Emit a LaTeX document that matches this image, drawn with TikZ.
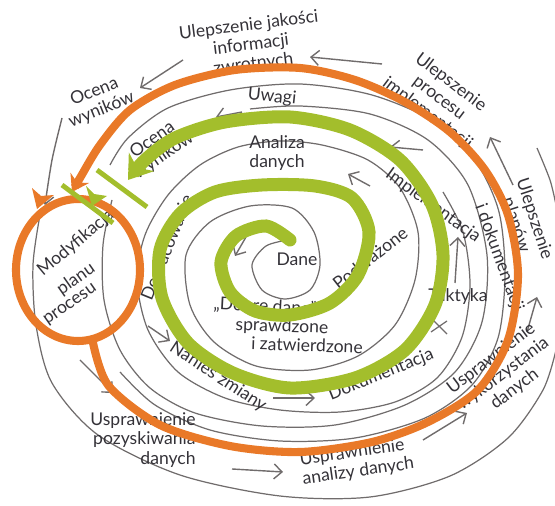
\documentclass[tikz,border=0pt]{standalone}
\usepackage{fontspec}
\setmainfont{Lato}
\usetikzlibrary{arrows.meta}
\definecolor{pomarancz}{RGB}{233,121,40}
\definecolor{zielen}{RGB}{163,190,44}
\definecolor{szary}{RGB}{112,108,108}
\definecolor{napis}{RGB}{52,50,56}

\begin{document}
\begin{tikzpicture}[x=0.02cm,y=-0.02cm,
            every node/.style={text=napis,font=\fontsize{10}{11}\selectfont,inner sep=0pt,align=center},
            linia/.style={szary,line width=0.7pt},
            grot/.style={szary,line width=0.8pt,-{Straight Barb[length=1.6mm,width=3mm]}},
            spirala/.style={zielen,line width=7.4pt,line cap=round},
            petla/.style={pomarancz,line width=4.6pt}]
                \useasboundingbox (0,0) rectangle (555,506);

                % szare linie spirali
                \draw[linia] plot[smooth] coordinates {(288,240) (266,246) (252,265) (262,290) (285,299) (310,290) (320,265) (314,232)
                    (292,208) (250,206) (210,222) (186,255) (190,305) (214,342) (256,366) (310,370) (358,356) (395,325) (415,280)
                    (418,232) (400,188) (368,160) (322,145) (280,141) (238,147) (200,165) (168,195) (145,235) (137,280) (148,330)
                    (178,372) (225,398) (280,410) (340,412) (395,402) (437,378) (462,337) (470,285) (463,232) (443,192)};
                \draw[linia] plot[smooth] coordinates {(250,109) (300,106) (370,114) (428,140) (468,185) (487,255) (482,322)
                    (455,372) (405,405) (335,425) (262,426) (195,413) (150,388) (120,350) (104,300) (103,245) (112,200)};
                \draw[linia] plot[smooth] coordinates {(120,372) (155,405) (210,430) (280,441) (355,438) (425,418) (472,385)
                    (498,338) (505,275) (499,212) (476,162) (435,122) (372,95) (300,84) (230,90) (168,108) (128,138) (110,165)};
                \draw[linia] plot[smooth] coordinates {(40,215) (33,265) (36,325) (52,383) (98,435) (180,475) (280,496)
                    (370,497) (450,476) (508,438) (543,390) (556,350)};
                \draw[linia] plot[smooth] coordinates {(537,148) (550,180) (556,205)};

                \begin{scope}
                    \draw[grot] plot[smooth] coordinates {(62,118) (52,160) (45,205)};
                    \draw[grot] (183,60) -- (140,88);
                    \draw[grot] (382,64) -- (310,57);
                    \draw[grot] (513,185) -- (490,137);
                    \draw[grot] (527,332) -- (537,297);
                    \draw[grot] (423,440) -- (467,413);
                    \draw[grot] (232,469) -- (283,472);
                    \draw[grot] (80,360) -- (113,393);
                    \draw[grot] (242,112) -- (216,117);
                    \draw[grot] (423,150) -- (390,147);
                    \draw[grot] (370,186) -- (348,174);
                    \draw[grot] (246,237) -- (235,256);
                    \draw[grot] (455,283) -- (458,237);
                    \draw[grot] (273,398) -- (315,398);
                    \draw[grot] (148,326) -- (170,341);
                    \draw[linia] (433,320) -- (447,334) (447,321) -- (431,332);
                \end{scope}

                % napisy
                \node[rotate=7] (jakosc) at (251,45) {Ulepszenie jakości\\informacji\\zwrotnych};
                \node[rotate=22] (ocenaZ) at (98,101) {Ocena\\wyników};
                \node[rotate=-37] (procesu) at (439,98) {Ulepszenie\\procesu\\implementacji};
                \node[rotate=-72] (plany) at (525,222) {Ulepszenie\\planów};
                \node[rotate=-70] (dokumentacji) at (499,258) {i dokumentacji};
                \node[rotate=37] (wykorzystania) at (503,374) {Usprawnienie\\wykorzystania\\danych};
                \node[rotate=8,align=left] (analizy) at (357,462) {Usprawnienie\\analizy danych};
                \node[align=right] (pozyskiwania) at (143,440) {Usprawnienie\hspace{0.4cm}\\pozyskiwania\\danych};
                \node[rotate=40] (modyf) at (76,243) {Modyfikacja};
                \node[rotate=35] (planu) at (76,279) {planu};
                \node[rotate=35] (iprocesu) at (66,306) {i procesu};
                \node[rotate=-6] (uwagi) at (272,97) {Uwagi};
                \node[rotate=35] (ocenaW) at (158,148) {Ocena\\wyników};
                \node (analiza) at (277,153) {Analiza\\danych};
                \node (dane) at (297,259) {Dane};
                \node[rotate=38] (podwazone) at (370,258) {Podważone};
                \node[rotate=-3] (dobre) at (265,307) {„Dobre dane”};
                \node[rotate=-2] (sprawdzone) at (282,327) {sprawdzone};
                \node[rotate=-2] (zatwierdzone) at (307,345) {i zatwierdzone};
                \node[rotate=22] (dokumentacja) at (381,375) {Dokumentacja};
                \node[rotate=-33] (zmiany) at (218,377) {Nanieś zmiany};
                \node[rotate=68] (dopracowanie) at (168,248) {Dopracowanie};
                \node[rotate=-36] (implementacja) at (433,206) {Implementacja};
                \node (taktyka) at (458,297) {Taktyka};

                % zielona spirala
                \draw[spirala,-{Stealth[length=0.45cm,width=0.62cm]}] plot[smooth] coordinates {(290,240) (266,226) (236,236) (221,262)
                    (230,292) (255,311) (290,315) (330,303) (358,275) (369,232) (352,198) (315,186) (262,185) (215,192) (180,214)
                    (160,250) (162,298) (188,343) (233,373) (290,388) (355,378) (405,350) (435,305) (443,255) (432,205) (400,160)
                    (350,130) (290,117) (225,122) (175,138) (145,160) (128,180)};

                % pomaranczowa petla
                \draw[petla] (78,270) ellipse [x radius=62, y radius=71];
                \draw[petla,-{Stealth[length=0.32cm,width=0.42cm]}] plot[smooth] coordinates {(92,338) (108,385) (160,425) (230,446)
                    (300,452) (372,442) (428,422) (478,390) (508,340) (518,275) (508,215) (485,170) (450,132) (405,102) (355,80)
                    (300,68) (235,70) (175,85) (130,110) (100,145) (80,178) (72,192)};
                \fill[pomarancz] (37,209) -- (32,188) -- (41,196) -- (54,195) -- cycle;

                \draw[zielen,line width=2.8pt] (97,170) -- (147,207);
                \draw[zielen,line width=2.8pt] (62,185) -- (113,223);
                \fill[zielen] (92,206) -- (86,186) -- (94,194) -- (107,196) -- cycle;
        \end{tikzpicture}
\end{document}
